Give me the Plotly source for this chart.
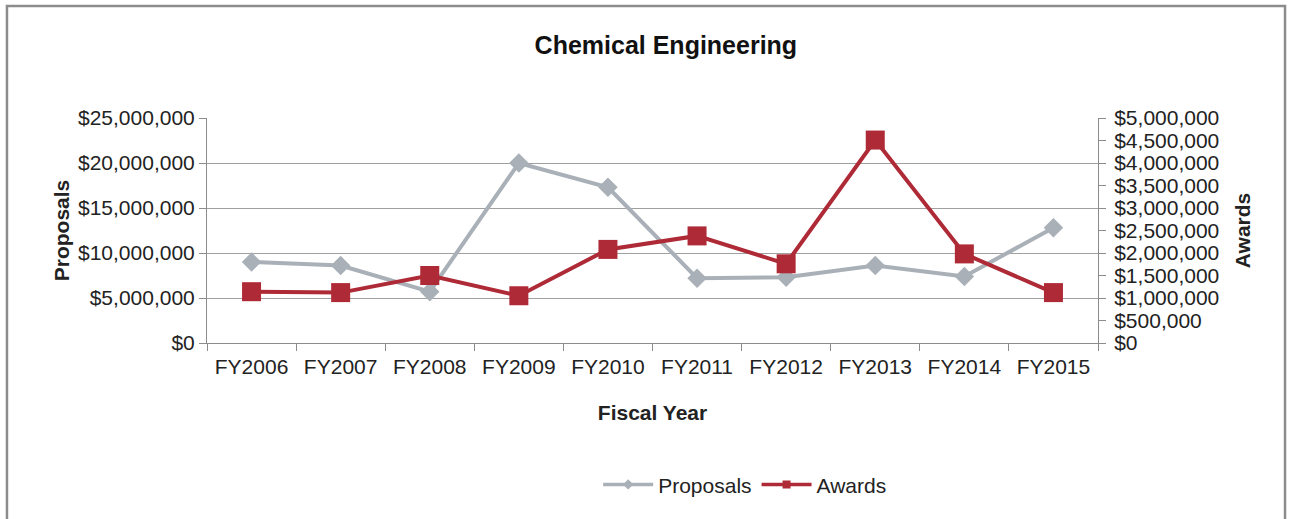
import plotly.graph_objects as go

# data
years = ["FY2006", "FY2007", "FY2008", "FY2009", "FY2010",
         "FY2011", "FY2012", "FY2013", "FY2014", "FY2015"]
proposals = [9000000, 8600000, 5700000, 20000000, 17300000,
             7200000, 7300000, 8600000, 7400000, 12800000]
awards = [1140000, 1120000, 1500000, 1050000, 2080000,
          2380000, 1760000, 4510000, 1980000, 1120000]

left_ticks = [0, 5000000, 10000000, 15000000, 20000000, 25000000]
right_ticks = [i * 500000 for i in range(11)]


def money(v):
    return f"${v:,.0f}"


GREY = "#A9B0B7"
RED = "#AE2A36"
AXIS = "#8C8C8C"
FONT = "Liberation Sans, Arial, sans-serif"

fig = go.Figure()
fig.add_trace(go.Scatter(
    x=years, y=proposals, name="Proposals", mode="lines+markers",
    line=dict(color=GREY, width=4),
    marker=dict(symbol="diamond", size=15, color=GREY),
    yaxis="y", showlegend=False,
))
fig.add_trace(go.Scatter(
    x=years, y=awards, name="Awards", mode="lines+markers",
    line=dict(color=RED, width=4),
    marker=dict(symbol="square", size=19, color=RED),
    yaxis="y2", showlegend=False,
))
# legend-only entries with the smaller glyphs seen in the reference legend
fig.add_trace(go.Scatter(
    x=[None], y=[None], name="Proposals", mode="lines+markers",
    line=dict(color=GREY, width=3.5),
    marker=dict(symbol="diamond", size=8, color=GREY),
))
fig.add_trace(go.Scatter(
    x=[None], y=[None], name="Awards", mode="lines+markers",
    line=dict(color=RED, width=3.5),
    marker=dict(symbol="square", size=8, color=RED),
))

fig.update_layout(
    width=1291, height=519,
    paper_bgcolor="white", plot_bgcolor="white",
    margin=dict(l=207, r=193, t=118, b=176),
    font=dict(family=FONT, size=21, color="#222222"),
    title=dict(text="<b>Chemical Engineering</b>", x=0.515, xref="paper",
               xanchor="center", y=0.913, yanchor="middle",
               font=dict(size=25, color="#111111")),
    xaxis=dict(
        type="category", showgrid=False, tickson="boundaries",
        ticks="outside", ticklen=7, tickcolor=AXIS, ticklabelstandoff=5,
        showline=True, linecolor=AXIS, linewidth=1,
        tickfont=dict(size=21),
        title=dict(text="<b>Fiscal Year</b>", standoff=28, font=dict(size=21)),
        range=[-0.5, 9.5],
    ),
    yaxis=dict(
        range=[0, 25000000], tickvals=left_ticks,
        ticktext=[money(v) for v in left_ticks],
        showgrid=True, gridcolor="#A0A0A0", gridwidth=1,
        ticks="outside", ticklen=7, tickcolor=AXIS,
        showline=True, linecolor=AXIS, linewidth=1, zeroline=False,
        tickfont=dict(size=21),
        title=dict(text="<b>Proposals</b>", standoff=2, font=dict(size=21)),
    ),
    yaxis2=dict(
        range=[0, 5000000], tickvals=right_ticks,
        ticktext=[money(v) for v in right_ticks],
        overlaying="y", side="right", showgrid=False,
        ticks="outside", ticklen=7, tickcolor=AXIS, ticklabelstandoff=4,
        showline=True, linecolor=AXIS, linewidth=1, zeroline=False,
        tickfont=dict(size=21),
        title=dict(text="<b>Awards</b>", standoff=16, font=dict(size=21)),
    ),
    legend=dict(orientation="h", x=0.604, xanchor="center", y=-0.63,
                yanchor="middle", font=dict(size=21), itemwidth=50,
                tracegroupgap=0, bgcolor="rgba(0,0,0,0)"),
    showlegend=True,
    shapes=[dict(type="rect", xref="paper", yref="paper",
                 x0=-0.2245, x1=1.2099, y0=-1.3, y1=1.4978,
                 line=dict(color="#8C8C8C", width=2.5), layer="below")],
)

fig.write_html("out.html", config={"displayModeBar": False},
               post_script="document.body.style.margin='0px';")
